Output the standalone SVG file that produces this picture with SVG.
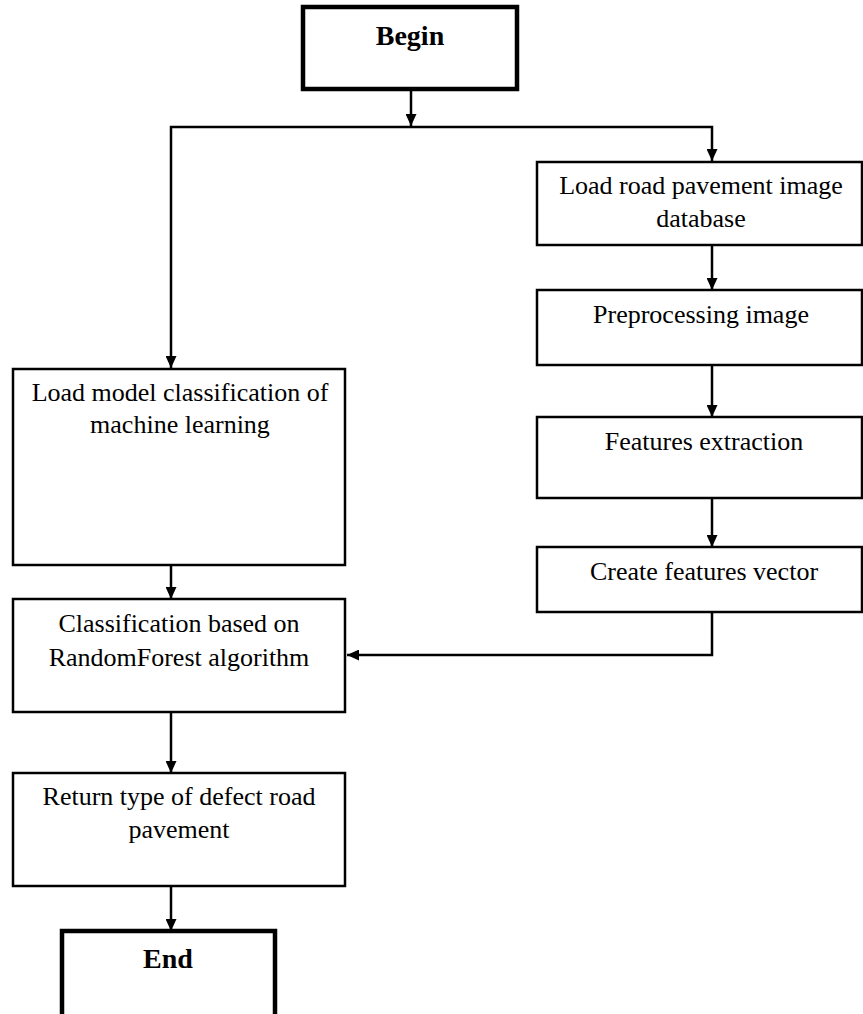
<svg xmlns="http://www.w3.org/2000/svg" width="863" height="1014" viewBox="0 0 863 1014">
<style>
.box{fill:#fff;stroke:#000;stroke-width:2.5}
.term{fill:#fff;stroke:#000;stroke-width:4.5}
.t{font-family:"Liberation Serif","Times New Roman",serif;font-size:26px;fill:#000;text-anchor:middle}
.b{font-weight:bold;font-size:28px}
.c{fill:none;stroke:#000;stroke-width:2.5}
</style>
<defs>
<marker id="ah" markerUnits="userSpaceOnUse" markerWidth="12" markerHeight="11" refX="12" refY="5.5" orient="auto">
<path d="M0,0 L12,5.5 L0,11 z" fill="#000"/>
</marker>
</defs>
<rect width="863" height="1014" fill="#fff"/>
<g id="connectors">
<path class="c" d="M411,89 V126" marker-end="url(#ah)"/>
<path class="c" d="M411,127 H171 V368" marker-end="url(#ah)"/>
<path class="c" d="M411,127 H712 V161" marker-end="url(#ah)"/>
<path class="c" d="M712,245 V290" marker-end="url(#ah)"/>
<path class="c" d="M712,365 V417" marker-end="url(#ah)"/>
<path class="c" d="M712,498 V547" marker-end="url(#ah)"/>
<path class="c" d="M712,612 V655 H347" marker-end="url(#ah)"/>
<path class="c" d="M171,565 V599" marker-end="url(#ah)"/>
<path class="c" d="M171,712 V773" marker-end="url(#ah)"/>
<path class="c" d="M171,886 V931" marker-end="url(#ah)"/>
</g>
<g id="begin">
<rect class="term" x="303" y="7" width="214" height="82"/>
<text class="t b" x="410" y="45">Begin</text>
</g>
<g id="load-db">
<rect class="box" x="537" y="162" width="325" height="83"/>
<text class="t" x="701" y="194">Load road pavement image</text>
<text class="t" x="701" y="227">database</text>
</g>
<g id="preprocess">
<rect class="box" x="537" y="290" width="325" height="75"/>
<text class="t" x="701" y="323">Preprocessing image</text>
</g>
<g id="features">
<rect class="box" x="537" y="417" width="325" height="81"/>
<text class="t" x="704" y="450">Features extraction</text>
</g>
<g id="vector">
<rect class="box" x="537" y="547" width="325" height="65"/>
<text class="t" x="704" y="580">Create features vector</text>
</g>
<g id="load-model">
<rect class="box" x="13" y="369" width="332" height="196"/>
<text class="t" x="180" y="401">Load model classification of</text>
<text class="t" x="180" y="433">machine learning</text>
</g>
<g id="classify">
<rect class="box" x="13" y="599" width="332" height="113"/>
<text class="t" x="179" y="632">Classification based on</text>
<text class="t" x="179" y="666">RandomForest algorithm</text>
</g>
<g id="return">
<rect class="box" x="13" y="773" width="332" height="113"/>
<text class="t" x="179" y="805">Return type of defect road</text>
<text class="t" x="179" y="838">pavement</text>
</g>
<g id="end">
<rect class="term" x="62" y="931" width="213" height="90"/>
<text class="t b" x="168" y="968">End</text>
</g>
</svg>
